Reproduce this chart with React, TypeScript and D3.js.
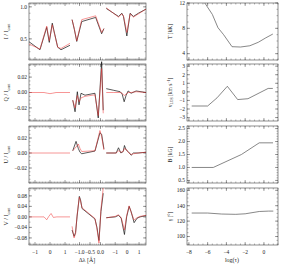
import React from "react";
import * as d3 from "d3";

// ---- Stokes profiles (three spectral windows) ----
// window 1
const i1Lam = [-1.4, -0.67, -0.22, -0.05, 0.15, 0.51, 0.73, 1.33];
const i1Obs = [0.455, 0.33, 0.68, 0.445, 0.745, 0.37, 0.33, 0.4];
const i1Fit = [0.42, 0.34, 0.7, 0.47, 0.72, 0.37, 0.35, 0.43];
const q1Lam = [-1.4, -0.4, -0.15, 0.0, 0.15, 0.4, 1.33];
const q1Fit = [0, 0, -0.001, -0.0015, -0.001, 0, 0];
const u1Lam = [-1.4, 1.33];
const u1Fit = [0, 0];
const v1Lam = [-1.4, -0.4, -0.22, -0.08, 0.07, 0.22, 0.45, 1.33];
const v1Fit = [0, 0, -0.011, 0.002, 0.013, -0.002, 0, 0];

// window 2
const i2Lam = [-1.357, -1.25, -1.133, -0.895, -0.229, 0.057, 0.167];
const i2Obs = [0.8, 0.65, 0.46, 0.77, 0.835, 0.58, 0.66];
const i2Fit = [0.8, 0.66, 0.47, 0.8, 0.86, 0.6, 0.66];
const q2Lam = [-1.324, -1.214, -1.105, -1.024, -0.929, -0.738, -0.262, -0.105, 0.057, 0.133];
const q2Obs = [-0.01, -0.025, 0.001, -0.016, -0.001, -0.0035, -0.001, -0.033, 0.04, -0.023];
const q2Fit = [-0.01, -0.02, -0.004, -0.012, -0.007, -0.005, -0.003, -0.03, 0.031, -0.027];
const u2Lam = [-1.324, -1.167, -1.057, -0.976, -0.895, -0.262, -0.024, 0.057, 0.167];
const u2Obs = [0.003, 0.0155, 0.006, 0.001, -0.001, 0.0026, 0.027, 0.025, 0.0055];
const u2Fit = [0.003, 0.008, 0.012, 0.006, 0.002, 0.003, 0.03, 0.022, 0.004];
const v2Lam = [-1.357, -1.262, -1.19, -1.119, -1.009, -0.952, -0.881, -0.262, -0.167, -0.071, 0.024, 0.133];
const v2Obs = [-0.05, -0.074, -0.06, 0.0, 0.078, 0.065, 0.032, -0.008, -0.04, -0.09, 0.02, 0.09];
const v2Fit = [-0.036, -0.08, -0.065, 0.005, 0.075, 0.06, 0.035, -0.006, -0.045, -0.1, 0.03, 0.11];

// window 3
const i3Lam = [-1.75, -0.725, -0.442, -0.308, -0.025, 0.25, 0.525, 0.942, 1.583];
const i3Obs = [0.975, 0.85, 0.9, 0.85, 0.545, 0.9, 0.85, 0.9, 0.965];
const i3Fit = [0.985, 0.84, 0.89, 0.86, 0.6, 0.89, 0.84, 0.89, 0.965];
const q3Lam = [-1.75, -1.167, -0.583, -0.417, -0.25, -0.083, 0.083, 0.333, 0.75, 1.583];
const q3Obs = [0.005, 0.003, 0.001, -0.002, -0.012, -0.0035, 0.002, -0.001, 0.002, 0];
const q3Fit = [0, 0, 0, -0.001, -0.004, -0.002, 0.0, 0.0, 0.001, 0];
const u3Lam = [-1.75, -0.917, -0.725, -0.525, -0.333, -0.225, -0.083, 0.083, 0.333, 0.525, 0.917, 1.583];
const u3Obs = [0, 0, 0.007, 0, 0.002, 0.01, 0.004, 0.002, -0.003, 0, 0, 0.001];
const u3Fit = [0, 0, 0.003, 0.001, 0.002, 0.006, 0.005, 0.001, -0.002, -0.001, 0, 0.001];
const v3Lam = [-1.75, -1.0, -0.725, -0.5, -0.225, -0.042, 0.167, 0.333, 0.583, 0.833, 1.083, 1.583];
const v3Obs = [-0.003, 0, 0.006, -0.005, -0.067, 0, 0.04, 0.02, -0.022, -0.005, 0, 0.005];
const v3Fit = [-0.004, 0.002, 0.008, -0.003, -0.05, 0.005, 0.042, 0.018, -0.012, -0.003, 0.002, 0.006];

const windowDomains = [[-1.4, 1.33], [-1.36, 0.17], [-1.83, 1.58]];
const windowTicks = [[-1, 0, 1], [-1.0, -0.5, 0.0], [-1, 0, 1]];
const windowTickLabels = [["−1", "0", "1"], ["−1.0", "−0.5", "0.0"], ["−1", "0", "1"]];

const stokesNames = ["I", "Q", "U", "V"];
const stokesDomains = [[0.17, 1.06], [-0.037, 0.037], [-0.04, 0.036], [-0.107, 0.11]];
const stokesTicks = [[0.5, 1.0], [-0.02, 0, 0.02], [-0.02, 0, 0.02], [-0.08, -0.04, 0, 0.04, 0.08]];
const stokesTickLabels = [["0.5", "1.0"], ["−0.02", "0.00", "0.02"], ["−0.02", "0.00", "0.02"], ["−0.08", "−0.04", "0.00", "0.04", "0.08"]];
const stokesMinor = [0.1, 0.005, 0.005, 0.02];

// ---- atmosphere vs log(tau) ----
const tLogTau = [-7.6, -6.3, -5.5, -4.9, -4.3, -3.4, -2.5, -1.5, -0.6, 0.2, 0.95];
const tValues = [14, 12, 10.2, 8.1, 7.0, 5.1, 5.05, 5.25, 5.8, 6.5, 7.1];
const vLogTau = [-7.7, -6.0, -5.0, -3.9, -2.8, -1.7, 0.45, 0.95];
const vValues = [-1.65, -1.65, -0.7, 0.65, -0.9, -0.8, 0.4, 0.4];
const bLogTau = [-7.7, -5.4, -2.4, -0.5, 0.97];
const bValues = [1.0, 1.0, 1.5, 1.95, 1.95];
const gLogTau = [-7.7, -6.0, -4.5, -3.0, -2.0, -0.5, 0.5, 1.0];
const gValues = [130.5, 130.5, 129.2, 128.8, 129.5, 132.5, 133, 133];

const atmoDomains = [[3, 12], [-3.4, 3.25], [0.4, 2.6], [89, 163]];
const atmoTicks = [[4, 8, 12], [-3, -2, -1, 0, 1, 2, 3], [0.5, 1.0, 1.5, 2.0, 2.5], [100, 120, 140, 160]];
const atmoTickLabels = [["4", "8", "12"], ["−3", "−2", "−1", "0", "1", "2", "3"], ["0.5", "1.0", "1.5", "2.0", "2.5"], ["100", "120", "140", "160"]];
const atmoMinor = [1, 0.5, 0.1, 5];
const logTauDomain = [-8.2, 1.5];
const logTauTicks = [-8, -6, -4, -2, 0];
const logTauTickLabels = ["−8", "−6", "−4", "−2", "0"];

const FONT = "Liberation Serif, Times New Roman, serif";
const FRAME = "#444";

const panelTops = [3, 64, 126, 188];
const panelH = 57;
const windowRanges = [[29, 70], [72, 104], [105.3, 146]];

function range(a: number, b: number, step: number) {
  const out: number[] = [];
  const n = Math.round((b - a) / step);
  for (let i = 0; i <= n; i++) out.push(+(a + i * step).toFixed(6));
  return out;
}

function minorTicks(domain: number[], step: number) {
  const lo = Math.ceil(domain[0] / step - 1e-6) * step;
  const hi = Math.floor(domain[1] / step + 1e-6) * step;
  return range(lo, hi, step);
}

const profiles = [
  [
    { lam: i1Lam, obs: i1Obs, fit: i1Fit },
    { lam: i2Lam, obs: i2Obs, fit: i2Fit },
    { lam: i3Lam, obs: i3Obs, fit: i3Fit },
  ],
  [
    { lam: q1Lam, obs: null, fit: q1Fit },
    { lam: q2Lam, obs: q2Obs, fit: q2Fit },
    { lam: q3Lam, obs: q3Obs, fit: q3Fit },
  ],
  [
    { lam: u1Lam, obs: null, fit: u1Fit },
    { lam: u2Lam, obs: u2Obs, fit: u2Fit },
    { lam: u3Lam, obs: u3Obs, fit: u3Fit },
  ],
  [
    { lam: v1Lam, obs: null, fit: v1Fit },
    { lam: v2Lam, obs: v2Obs, fit: v2Fit },
    { lam: v3Lam, obs: v3Obs, fit: v3Fit },
  ],
];

const atmo = [
  { x: tLogTau, y: tValues },
  { x: vLogTau, y: vValues },
  { x: bLogTau, y: bValues },
  { x: gLogTau, y: gValues },
];

function StokesPanel({ k }: { k: number }) {
  const top = panelTops[k];
  const bottom = top + panelH;
  const left = windowRanges[0][0];
  const right = windowRanges[2][1];
  const y = d3.scaleLinear().domain(stokesDomains[k]).range([bottom, top]);
  const xs = windowDomains.map((d, i) => d3.scaleLinear().domain(d).range(windowRanges[i]));
  const line = (xsc: d3.ScaleLinear<number, number>, lam: number[], vals: number[]) =>
    d3.line<number>().x((_, i) => xsc(lam[i])).y((v) => y(v))(vals) || "";

  return (
    <g>
      <rect x={left} y={top} width={right - left} height={panelH} fill="none" stroke={FRAME} strokeWidth={0.6} />
      {/* y ticks */}
      {minorTicks(stokesDomains[k], stokesMinor[k]).map((t, i) => (
        <g key={"ym" + i}>
          <line x1={left} x2={left + 1.5} y1={y(t)} y2={y(t)} stroke={FRAME} strokeWidth={0.4} />
          <line x1={right} x2={right - 1.5} y1={y(t)} y2={y(t)} stroke={FRAME} strokeWidth={0.4} />
        </g>
      ))}
      {stokesTicks[k].map((t, i) => (
        <g key={"y" + i}>
          <line x1={left} x2={left + 3} y1={y(t)} y2={y(t)} stroke={FRAME} strokeWidth={0.5} />
          <line x1={right} x2={right - 3} y1={y(t)} y2={y(t)} stroke={FRAME} strokeWidth={0.5} />
          <text x={left - 2} y={y(t)} dy="0.33em" textAnchor="end" fontSize={5.5} fontFamily={FONT} fill="#222">
            {stokesTickLabels[k][i]}
          </text>
        </g>
      ))}
      {/* x ticks for each window */}
      {xs.map((xsc, w) => (
        <g key={"xw" + w}>
          {minorTicks(windowDomains[w], 0.1).map((t, i) => (
            <g key={i}>
              <line x1={xsc(t)} x2={xsc(t)} y1={top} y2={top + 1.5} stroke={FRAME} strokeWidth={0.4} />
              <line x1={xsc(t)} x2={xsc(t)} y1={bottom} y2={bottom - 1.5} stroke={FRAME} strokeWidth={0.4} />
            </g>
          ))}
          {windowTicks[w].map((t, i) => (
            <g key={"M" + i}>
              <line x1={xsc(t)} x2={xsc(t)} y1={top} y2={top + 3} stroke={FRAME} strokeWidth={0.5} />
              <line x1={xsc(t)} x2={xsc(t)} y1={bottom} y2={bottom - 3} stroke={FRAME} strokeWidth={0.5} />
              {k === 3 && (
                <text x={xsc(t)} y={bottom + 9} textAnchor="middle" fontSize={5.5} fontFamily={FONT} fill="#222">
                  {windowTickLabels[w][i]}
                </text>
              )}
            </g>
          ))}
        </g>
      ))}
      {/* profiles */}
      {profiles[k].map((p, w) => (
        <g key={"p" + w}>
          {p.obs && <path d={line(xs[w], p.lam, p.obs)} fill="none" stroke="#111" strokeWidth={0.7} />}
          <path d={line(xs[w], p.lam, p.fit)} fill="none" stroke="#f03030" strokeWidth={0.6} strokeOpacity={0.85} />
        </g>
      ))}
      <text
        transform={`translate(${8},${top + panelH / 2}) rotate(-90)`}
        textAnchor="middle"
        fontSize={6}
        fontFamily={FONT}
        fill="#222"
      >
        {stokesNames[k]} / I<tspan fontSize={4} dy="1.5">cont</tspan>
      </text>
    </g>
  );
}

const atmoLabels = [
  <tspan>T [kK]</tspan>,
  <>
    <tspan>v</tspan>
    <tspan fontSize={3.8} dy="1.2">LOS</tspan>
    <tspan dy="-1.2"> [km s</tspan>
    <tspan fontSize={3.8} dy="-2">−1</tspan>
    <tspan dy="2">]</tspan>
  </>,
  <tspan>B [kG]</tspan>,
  <tspan>γ [°]</tspan>,
];

function AtmoPanel({ k }: { k: number }) {
  const top = panelTops[k];
  const bottom = top + panelH;
  const left = 187;
  const right = 278;
  const x = d3.scaleLinear().domain(logTauDomain).range([left, right]);
  const y = d3.scaleLinear().domain(atmoDomains[k]).range([bottom, top]);
  const d = atmo[k];
  const path =
    d3
      .line<number>()
      .x((_, i) => x(d.x[i]))
      .y((v) => y(v))(d.y) || "";

  return (
    <g>
      <defs>
        <clipPath id={"clipA" + k}>
          <rect x={left} y={top} width={right - left} height={panelH} />
        </clipPath>
      </defs>
      <rect x={left} y={top} width={right - left} height={panelH} fill="none" stroke={FRAME} strokeWidth={0.6} />
      {minorTicks(logTauDomain, 0.5).map((t, i) => (
        <g key={"xm" + i}>
          <line x1={x(t)} x2={x(t)} y1={top} y2={top + 1.5} stroke={FRAME} strokeWidth={0.4} />
          <line x1={x(t)} x2={x(t)} y1={bottom} y2={bottom - 1.5} stroke={FRAME} strokeWidth={0.4} />
        </g>
      ))}
      {logTauTicks.map((t, i) => (
        <g key={"x" + i}>
          <line x1={x(t)} x2={x(t)} y1={top} y2={top + 3} stroke={FRAME} strokeWidth={0.5} />
          <line x1={x(t)} x2={x(t)} y1={bottom} y2={bottom - 3} stroke={FRAME} strokeWidth={0.5} />
          {k === 3 && (
            <text x={x(t)} y={bottom + 9} textAnchor="middle" fontSize={5.5} fontFamily={FONT} fill="#222">
              {logTauTickLabels[i]}
            </text>
          )}
        </g>
      ))}
      {minorTicks(atmoDomains[k], atmoMinor[k]).map((t, i) => (
        <g key={"ym" + i}>
          <line x1={left} x2={left + 1.5} y1={y(t)} y2={y(t)} stroke={FRAME} strokeWidth={0.4} />
          <line x1={right} x2={right - 1.5} y1={y(t)} y2={y(t)} stroke={FRAME} strokeWidth={0.4} />
        </g>
      ))}
      {atmoTicks[k].map((t, i) => (
        <g key={"y" + i}>
          <line x1={left} x2={left + 3} y1={y(t)} y2={y(t)} stroke={FRAME} strokeWidth={0.5} />
          <line x1={right} x2={right - 3} y1={y(t)} y2={y(t)} stroke={FRAME} strokeWidth={0.5} />
          <text x={left - 2} y={y(t)} dy="0.33em" textAnchor="end" fontSize={5.5} fontFamily={FONT} fill="#222">
            {atmoTickLabels[k][i]}
          </text>
        </g>
      ))}
      <path d={path} fill="none" stroke="#555" strokeWidth={0.7} clipPath={`url(#clipA${k})`} />
      <text
        transform={`translate(${172},${top + panelH / 2}) rotate(-90)`}
        textAnchor="middle"
        fontSize={5.5}
        fontFamily={FONT}
        fill="#222"
      >
        {atmoLabels[k]}
      </text>
    </g>
  );
}

export default function App() {
  return (
    <svg width={287} height={265} style={{ position: "absolute", left: 0, top: 0, background: "#fff" }}>
      {[0, 1, 2, 3].map((k) => (
        <StokesPanel key={"s" + k} k={k} />
      ))}
      {[0, 1, 2, 3].map((k) => (
        <AtmoPanel key={"a" + k} k={k} />
      ))}
      <text x={87} y={262} textAnchor="middle" fontSize={6} fontFamily={FONT} fill="#222">
        Δλ [Å]
      </text>
      <text x={232} y={262} textAnchor="middle" fontSize={6} fontFamily={FONT} fill="#222">
        log(τ)
      </text>
    </svg>
  );
}
